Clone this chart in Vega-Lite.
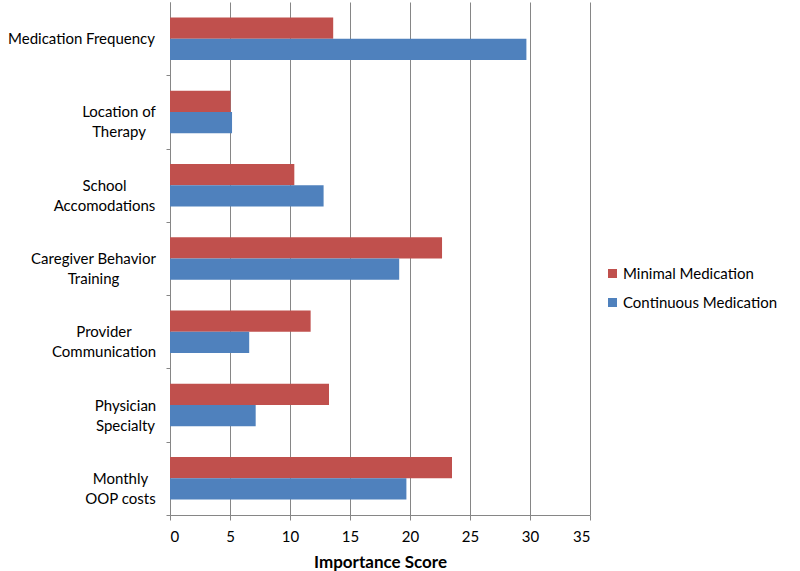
{
  "$schema": "https://vega.github.io/schema/vega-lite/v6.json",
  "width": 420,
  "height": 513,
  "autosize": {"type": "none"},
  "padding": {"left": 170, "top": 2, "right": 210, "bottom": 56},
  "background": "white",
  "config": {
    "font": "Lato",
    "view": {"stroke": null}
  },
  "data": {
    "values": [
      {"attribute": "Medication Frequency", "group": "Minimal Medication", "score": 13.6},
      {"attribute": "Medication Frequency", "group": "Continuous Medication", "score": 29.7},
      {"attribute": "Location of|Therapy", "group": "Minimal Medication", "score": 5.05},
      {"attribute": "Location of|Therapy", "group": "Continuous Medication", "score": 5.17},
      {"attribute": "School|Accomodations", "group": "Minimal Medication", "score": 10.36},
      {"attribute": "School|Accomodations", "group": "Continuous Medication", "score": 12.8},
      {"attribute": "Caregiver Behavior|Training", "group": "Minimal Medication", "score": 22.67},
      {"attribute": "Caregiver Behavior|Training", "group": "Continuous Medication", "score": 19.1},
      {"attribute": "Provider|Communication", "group": "Minimal Medication", "score": 11.72},
      {"attribute": "Provider|Communication", "group": "Continuous Medication", "score": 6.6},
      {"attribute": "Physician|Specialty", "group": "Minimal Medication", "score": 13.25},
      {"attribute": "Physician|Specialty", "group": "Continuous Medication", "score": 7.14},
      {"attribute": "Monthly|OOP costs", "group": "Minimal Medication", "score": 23.5},
      {"attribute": "Monthly|OOP costs", "group": "Continuous Medication", "score": 19.7}
    ]
  },
  "mark": {"type": "bar"},
  "encoding": {
    "y": {
      "field": "attribute",
      "type": "nominal",
      "sort": ["Medication Frequency", "Location of|Therapy", "School|Accomodations", "Caregiver Behavior|Training", "Provider|Communication", "Physician|Specialty", "Monthly|OOP costs"],
      "scale": {"paddingInner": 0.42, "paddingOuter": 0.21},
      "axis": {
        "title": null,
        "labelExpr": "split(datum.label, '|')",
        "labelFontSize": 15,
        "labelColor": "#000000",
        "labelLineHeight": 20,
        "labelAlign": "center",
        "labelPadding": {
          "condition": [
            {"test": "datum.value == 'Medication Frequency'", "value": 85},
            {"test": "datum.value == 'Location of|Therapy'", "value": 47.5},
            {"test": "datum.value == 'School|Accomodations'", "value": 62},
            {"test": "datum.value == 'Caregiver Behavior|Training'", "value": 73},
            {"test": "datum.value == 'Provider|Communication'", "value": 62.5},
            {"test": "datum.value == 'Physician|Specialty'", "value": 41}
          ],
          "value": 46
        },
        "ticks": true,
        "tickOffset": 36.64,
        "labelOffset": -36.64,
        "tickSize": 4,
        "tickColor": "#868686",
        "domainColor": "#868686",
        "grid": false
      }
    },
    "yOffset": {"field": "group", "type": "nominal", "sort": ["Minimal Medication", "Continuous Medication"]},
    "x": {
      "field": "score",
      "type": "quantitative",
      "scale": {"domain": [0, 35], "nice": false},
      "axis": {
        "values": [0, 5, 10, 15, 20, 25, 30, 35],
        "title": "Importance Score",
        "titleFontSize": 17,
        "titleFontWeight": "bold",
        "titleColor": "#000000",
        "titlePadding": 10,
        "labelFontSize": 15,
        "labelColor": "#000000",
        "labelPadding": 9,
        "tickSize": 5,
        "tickColor": "#868686",
        "domainColor": "#868686",
        "grid": true,
        "gridColor": "#868686",
        "gridWidth": 1
      }
    },
    "color": {
      "field": "group",
      "type": "nominal",
      "scale": {"domain": ["Minimal Medication", "Continuous Medication"], "range": ["#C0504D", "#4F81BD"]},
      "legend": {
        "title": null,
        "orient": "none",
        "legendX": 435,
        "legendY": 264,
        "symbolType": "square",
        "symbolSize": 81,
        "symbolStrokeWidth": 0,
        "labelFontSize": 15,
        "labelColor": "#000000",
        "rowPadding": 13,
        "labelOffset": 3
      }
    }
  }
}
